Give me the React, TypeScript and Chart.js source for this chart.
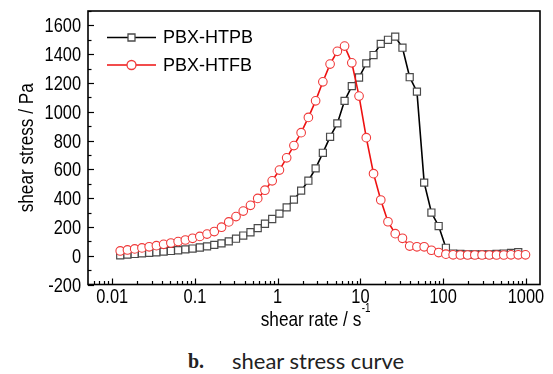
import { useEffect, useRef } from 'react';
import { Chart, registerables } from 'chart.js';

Chart.register(...registerables);

// ---- data ----
const shearRate = [
  0.0125, 0.01529, 0.0187, 0.02288, 0.02798, 0.03422, 0.04186, 0.0512, 0.06262, 0.07659,
  0.09368, 0.1146, 0.1401, 0.1714, 0.2096, 0.2564, 0.3136, 0.3836, 0.4691, 0.5738,
  0.7018, 0.8584, 1.05, 1.284, 1.571, 1.921, 2.35, 2.874, 3.515, 4.299,
  5.259, 6.432, 7.867, 9.622, 11.77, 14.4, 17.61, 21.53, 26.34, 32.21,
  39.4, 48.19, 58.94, 72.09, 88.18, 107.9, 131.9, 161.3, 197.3, 241.4,
  295.2, 361.1, 441.6, 540.2, 660.7, 808.1, 988.4,
];

const htpbStress = [
  3, 8, 12, 16, 20, 24, 28, 33, 38, 44,
  50, 57, 65, 75, 86, 100, 118, 140, 163, 192,
  222, 255, 292, 336, 390, 452, 521, 607, 715, 826,
  919, 1076, 1178, 1238, 1336, 1394, 1472, 1500, 1522, 1445,
  1240, 1140, 508, 300, 206, 55, 15, 12, 10, 10,
  10, 10, 12, 15, 20, 25,
];

const htfbStress = [
  33, 40, 47, 54, 62, 70, 79, 88, 98, 109,
  121, 134, 150, 168, 198, 235, 272, 310, 350, 398,
  455, 520, 595, 680, 765, 855, 961, 1076, 1208, 1331,
  1420, 1456, 1340, 1109, 820, 570, 387, 236, 153, 121,
  67, 62, 62, 38, 22, 11, 6, 5, 5, 5,
  5, 5, 5, 5, 6, 6, 6,
];

const seriesNames = ['PBX-HTPB', 'PBX-HTFB'];
const xTickLabels = ['0.01', '0.1', '1', '10', '100', '1000'];
const yTickLabels = ['-200', '0', '200', '400', '600', '800', '1000', '1200', '1400', '1600'];
const xTitle = 'shear rate / s';
const xTitleSup = '-1';
const yTitle = 'shear stress / Pa';
const captionLabel = 'b.';
const captionText = 'shear stress curve';

const AXIS_FAMILY = '"Liberation Sans", Arial, sans-serif';
const NARROW = 0.82; // emulates a narrow (Arial Narrow-like) face

function narrowText(
  ctx: CanvasRenderingContext2D,
  text: string,
  x: number,
  y: number,
  size: number,
  align: CanvasTextAlign,
  rotate = 0
) {
  ctx.save();
  ctx.translate(x, y);
  if (rotate) ctx.rotate(rotate);
  ctx.scale(NARROW, 1);
  ctx.font = `${size}px ${AXIS_FAMILY}`;
  ctx.textAlign = align;
  ctx.textBaseline = 'alphabetic';
  ctx.fillStyle = '#000';
  ctx.fillText(text, 0, 0);
  ctx.restore();
}

export default function App() {
  const ref = useRef<HTMLCanvasElement | null>(null);

  useEffect(() => {
    const canvas = ref.current;
    if (!canvas) return;

    const tickSize = 20;
    const titleSize = 21;
    const legendFamily = '"Liberation Sans", Arial, sans-serif';

    const X_MIN = 0.0051;
    const X_MAX = 1480;
    const Y_MIN = -200;
    const Y_MAX = 1700;

    const blackLine = '#000000';
    const squareEdge = '#4a4a4a';
    const redLine = '#ee1111';
    const circleEdge = '#f03a3a';

    const framePlugin = {
      id: 'frameTicks',
      afterDraw(chart: any) {
        const { ctx, chartArea: a, scales } = chart;
        const xs = scales.x;
        const ys = scales.y;
        ctx.save();
        ctx.strokeStyle = '#000';
        ctx.lineWidth = 1.2;
        // inward ticks on bottom axis
        for (let e = -3; e <= 3; e++) {
          for (let m = 1; m <= 9; m++) {
            const v = m * Math.pow(10, e);
            if (v < X_MIN || v > X_MAX) continue;
            const px = Math.round(xs.getPixelForValue(v)) + 0.5;
            const len = m === 1 ? 6 : 3.5;
            ctx.beginPath();
            ctx.moveTo(px, a.bottom);
            ctx.lineTo(px, a.bottom - len);
            ctx.stroke();
          }
        }
        // inward ticks on left axis
        for (let v = Y_MIN; v <= Y_MAX; v += 100) {
          const py = Math.round(ys.getPixelForValue(v)) + 0.5;
          const len = v % 200 === 0 ? 6 : 3.5;
          ctx.beginPath();
          ctx.moveTo(a.left, py);
          ctx.lineTo(a.left + len, py);
          ctx.stroke();
        }
        // frame
        ctx.lineWidth = 1.6;
        ctx.strokeRect(a.left, a.top, a.right - a.left, a.bottom - a.top);

        // tick labels produced by the scales
        xs.ticks.forEach((t: any) => {
          if (!t.label) return;
          narrowText(ctx, String(t.label), xs.getPixelForValue(t.value), a.bottom + 18.5, tickSize, 'center');
        });
        ys.ticks.forEach((t: any) => {
          if (!t.label) return;
          narrowText(ctx, String(t.label), a.left - 7, ys.getPixelForValue(t.value) + 7, tickSize, 'right');
        });

        // axis titles
        const tx = (a.left + a.right) / 2 - 3;
        narrowText(ctx, xTitle, tx, 326, titleSize, 'center');
        ctx.font = `${titleSize}px ${AXIS_FAMILY}`;
        const w = ctx.measureText(xTitle).width * NARROW;
        narrowText(ctx, xTitleSup, tx + w / 2 + 0.5, 312, 12, 'left');
        narrowText(ctx, yTitle, 33, (a.top + a.bottom) / 2, titleSize, 'center', -Math.PI / 2);

        // legend inside the plot
        const rows = [
          { name: seriesNames[0], line: blackLine, edge: squareEdge, shape: 'rect' },
          { name: seriesNames[1], line: redLine, edge: circleEdge, shape: 'circle' },
        ];
        rows.forEach((r, i) => {
          const y = a.top + 26.5 + i * 27.5;
          const x0 = a.left + 19;
          const x1 = a.left + 68;
          const xm = (x0 + x1) / 2;
          ctx.strokeStyle = r.line;
          ctx.lineWidth = 1.6;
          ctx.beginPath();
          ctx.moveTo(x0, y);
          ctx.lineTo(x1, y);
          ctx.stroke();
          ctx.fillStyle = '#fff';
          ctx.strokeStyle = r.edge;
          ctx.lineWidth = 1.3;
          ctx.beginPath();
          if (r.shape === 'rect') {
            ctx.rect(xm - 3.5, y - 3.5, 7, 7);
          } else {
            ctx.arc(xm, y, 4.5, 0, Math.PI * 2);
          }
          ctx.fill();
          ctx.stroke();
          ctx.fillStyle = '#000';
          ctx.font = `18px ${legendFamily}`;
          ctx.textAlign = 'left';
          ctx.textBaseline = 'middle';
          ctx.fillText(r.name, a.left + 75, y + 1);
        });
        ctx.restore();
      },
    };

    const chart = new Chart(canvas, {
      type: 'line',
      data: {
        datasets: [
          {
            label: seriesNames[0],
            data: htpbStress.map((v, i) => ({ x: shearRate[i], y: v })),
            borderColor: blackLine,
            borderWidth: 1.6,
            pointStyle: 'rect',
            pointRadius: 5,
            pointBorderWidth: 1.2,
            pointBorderColor: squareEdge,
            pointBackgroundColor: '#ffffff',
            tension: 0,
            order: 2,
          },
          {
            label: seriesNames[1],
            data: htfbStress.map((v, i) => ({ x: shearRate[i], y: v })),
            borderColor: redLine,
            borderWidth: 1.6,
            pointStyle: 'circle',
            pointRadius: 4.3,
            pointBorderWidth: 1.1,
            pointBorderColor: circleEdge,
            pointBackgroundColor: '#ffffff',
            tension: 0,
            order: 1,
          },
        ],
      },
      options: {
        responsive: false,
        animation: false,
        devicePixelRatio: 1,
        layout: { padding: { left: 0, top: 11, right: 13, bottom: 0 } },
        plugins: {
          legend: { display: false },
          tooltip: { enabled: false },
        },
        scales: {
          x: {
            type: 'logarithmic',
            min: X_MIN,
            max: X_MAX,
            grid: { display: false, drawTicks: false },
            border: { display: false },
            afterFit: (s: any) => {
              s.height = 55.5;
            },
            ticks: {
              display: false,
              autoSkip: false,
              maxRotation: 0,
              minRotation: 0,
              callback: (value: any) => {
                const v = Number(value);
                const e = Math.log10(v);
                if (Math.abs(e - Math.round(e)) > 1e-6) return '';
                const lbl = xTickLabels.find(
                  (l) => Math.abs(Math.log10(parseFloat(l)) - e) < 1e-6
                );
                return lbl ?? '';
              },
            },
            title: { display: false, text: xTitle },
          },
          y: {
            type: 'linear',
            min: Y_MIN,
            max: Y_MAX,
            grid: { display: false, drawTicks: false },
            border: { display: false },
            afterFit: (s: any) => {
              s.width = 88;
            },
            ticks: {
              display: false,
              stepSize: 200,
              includeBounds: false,
              callback: (value: any) => {
                const s = String(value);
                return yTickLabels.includes(s) ? s : '';
              },
            },
            title: { display: false, text: yTitle },
          },
        },
      },
      plugins: [framePlugin],
    } as any);

    return () => {
      chart.destroy();
    };
  }, []);

  return (
    <div
      style={{
        position: 'absolute',
        left: 0,
        top: 0,
        width: 553,
        height: 374,
        background: '#fff',
        overflow: 'hidden',
      }}
    >
      <canvas ref={ref} width={553} height={340} style={{ display: 'block', width: 553, height: 340 }} />
      <div
        style={{
          position: 'absolute',
          left: 188,
          top: 351,
          fontFamily: '"Liberation Serif", serif',
          fontWeight: 'bold',
          fontSize: 20,
          lineHeight: 1,
          color: '#222',
          whiteSpace: 'nowrap',
        }}
      >
        {captionLabel}
      </div>
      <div
        style={{
          position: 'absolute',
          left: 232,
          top: 350,
          fontFamily: 'Lato, "Noto Sans", sans-serif',
          fontSize: 22,
          lineHeight: 1,
          color: '#222',
          whiteSpace: 'nowrap',
        }}
      >
        {captionText}
      </div>
    </div>
  );
}
